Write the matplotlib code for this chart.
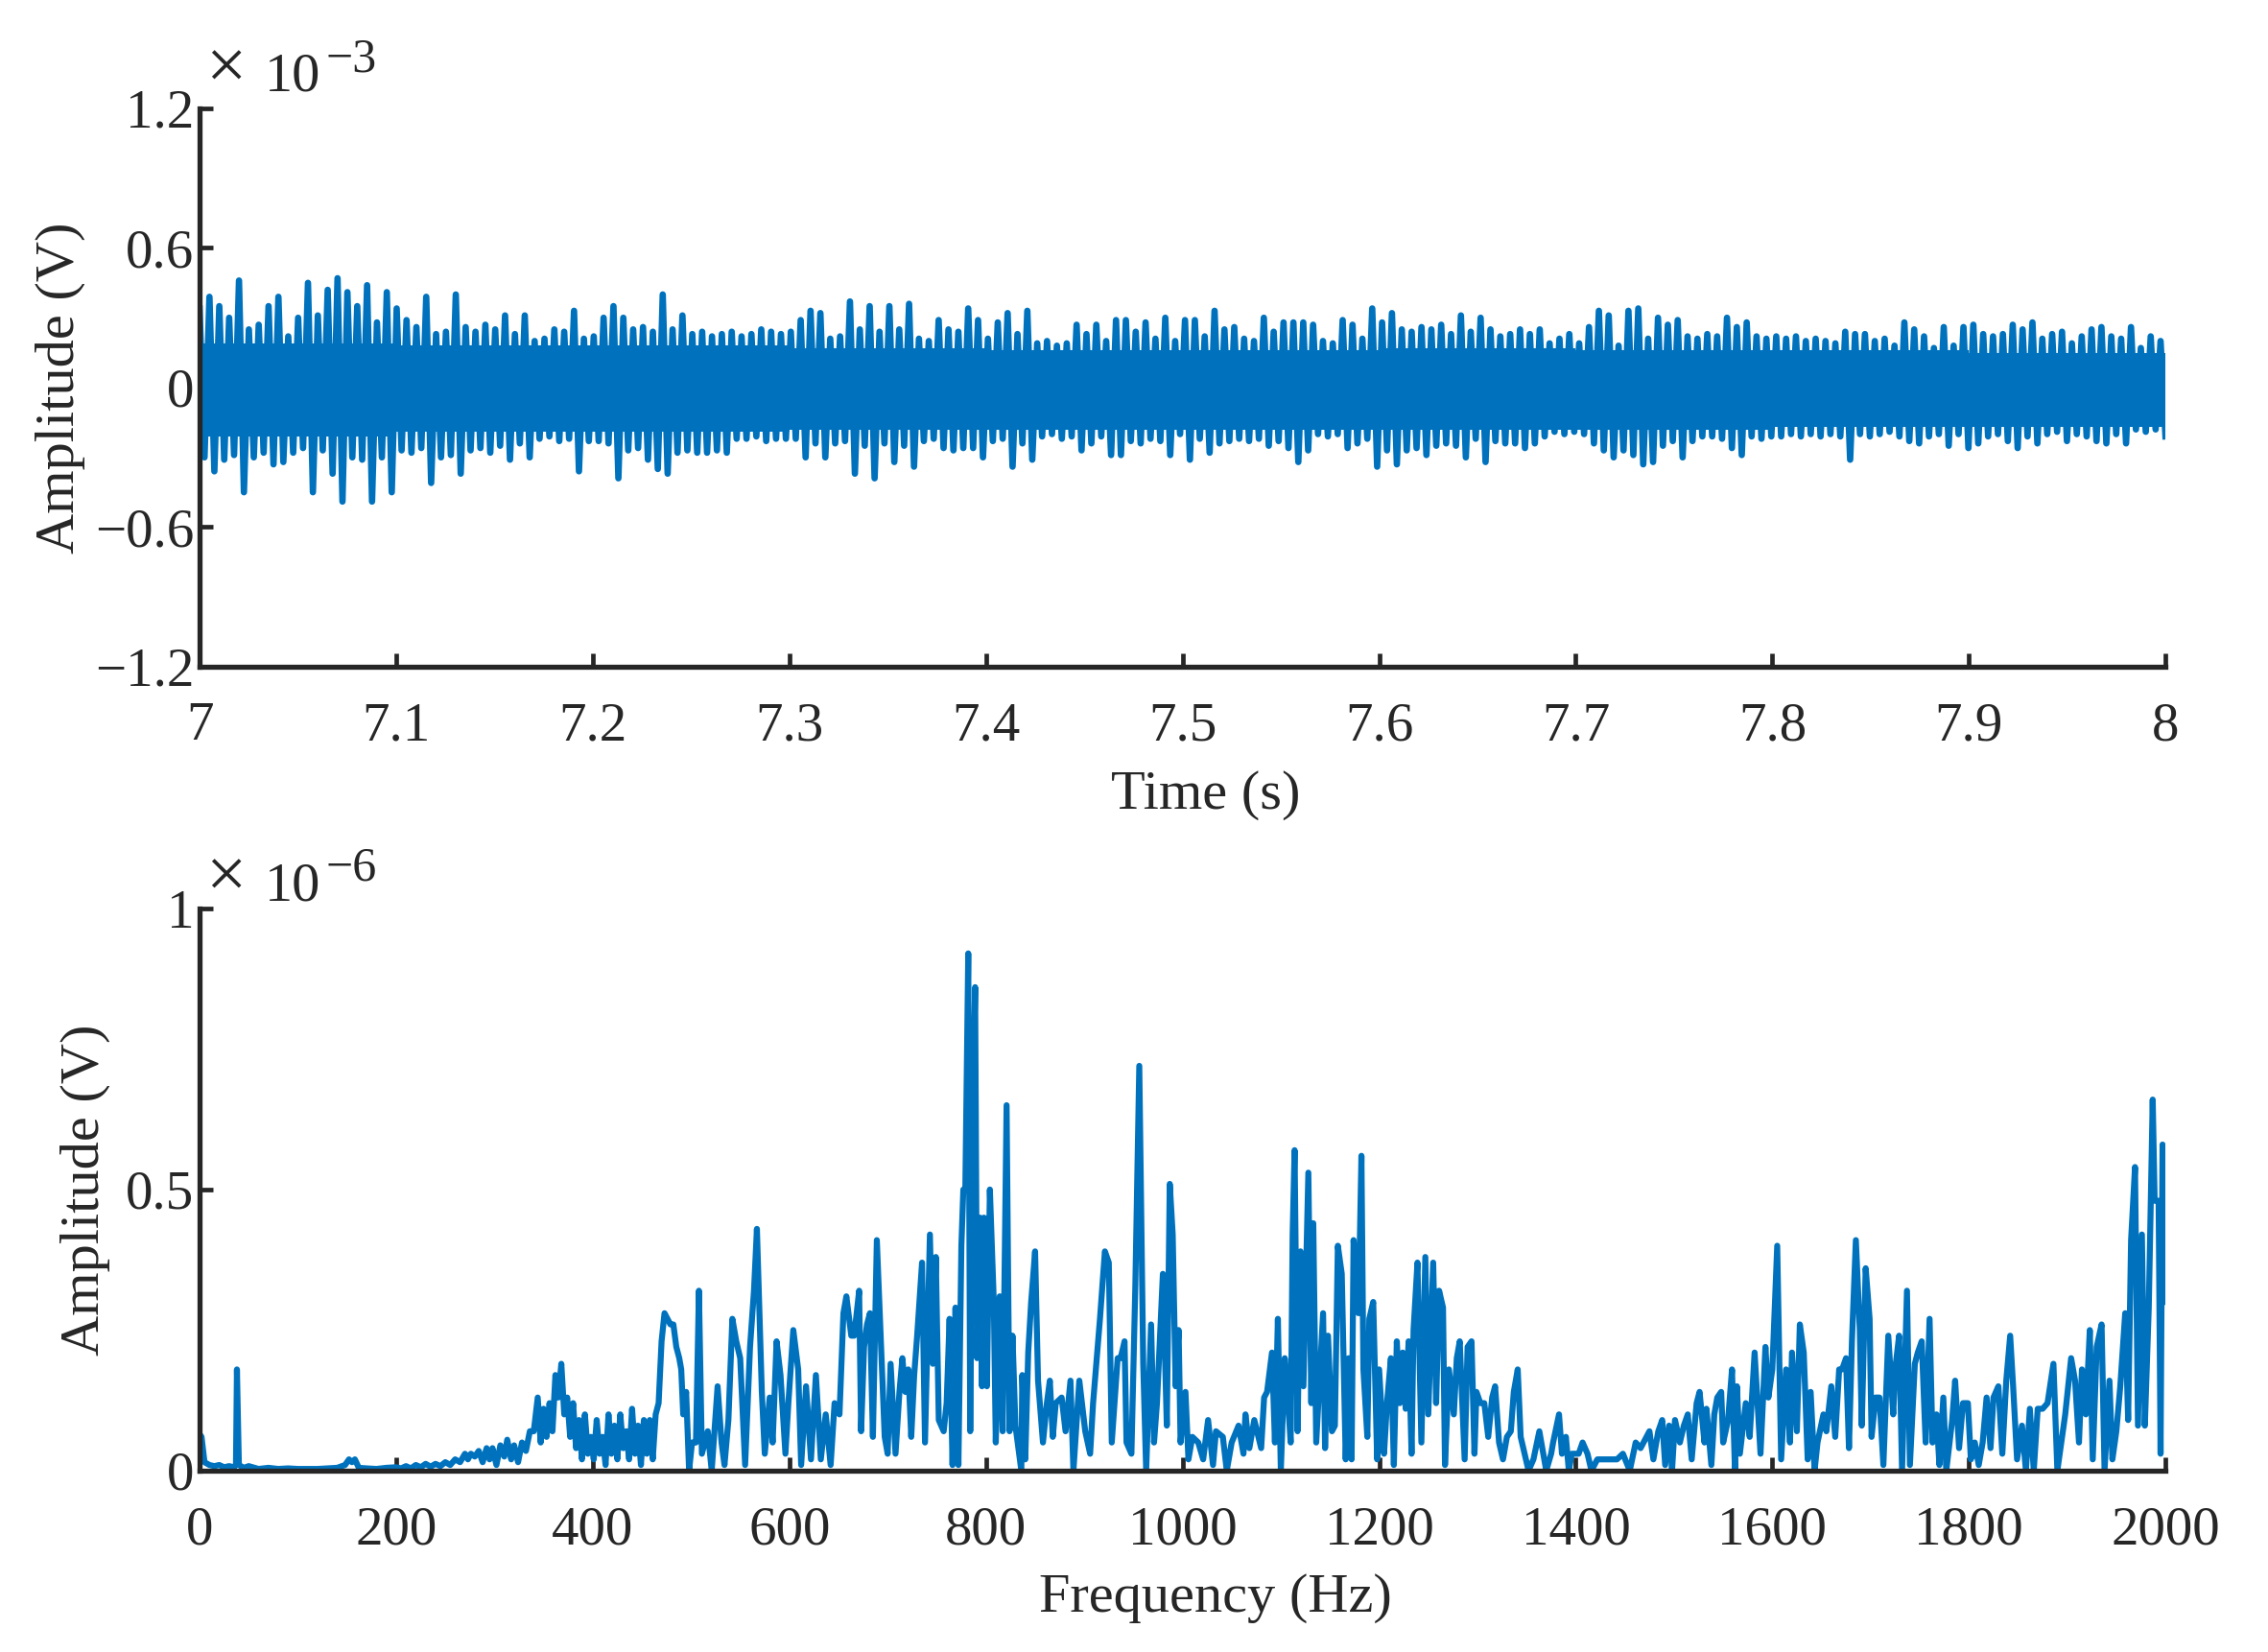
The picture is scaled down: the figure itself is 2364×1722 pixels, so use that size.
import numpy as np
import matplotlib.pyplot as plt

plt.rcParams['font.family'] = ['Liberation Serif', 'DejaVu Serif']

# ---- time signal, 7 s .. 8 s : upper / lower extremes per 5 ms bin (x 1e-3 V)
upper_env = [
    [0.34, 0.39, 0.35, 0.30, 0.46, 0.25, 0.27, 0.35, 0.39, 0.22, 0.30, 0.45, 0.31, 0.42, 0.47, 0.41, 0.35, 0.44, 0.28, 0.41],
    [0.34, 0.29, 0.26, 0.39, 0.23, 0.24, 0.40, 0.26, 0.24, 0.27, 0.25, 0.31, 0.23, 0.31, 0.20, 0.21, 0.25, 0.24, 0.33, 0.21],
    [0.22, 0.30, 0.35, 0.30, 0.25, 0.26, 0.24, 0.40, 0.25, 0.31, 0.23, 0.24, 0.22, 0.23, 0.24, 0.22, 0.23, 0.25, 0.24, 0.23],
    [0.24, 0.29, 0.33, 0.32, 0.21, 0.22, 0.37, 0.25, 0.35, 0.24, 0.35, 0.25, 0.36, 0.21, 0.20, 0.29, 0.25, 0.24, 0.34, 0.29],
    [0.21, 0.28, 0.32, 0.23, 0.33, 0.19, 0.20, 0.18, 0.19, 0.27, 0.23, 0.27, 0.20, 0.29, 0.29, 0.24, 0.28, 0.21, 0.30, 0.20],
    [0.29, 0.29, 0.22, 0.33, 0.25, 0.26, 0.21, 0.20, 0.30, 0.24, 0.28, 0.28, 0.28, 0.27, 0.20, 0.19, 0.29, 0.27, 0.21, 0.34],
    [0.28, 0.32, 0.25, 0.24, 0.26, 0.25, 0.27, 0.23, 0.31, 0.24, 0.30, 0.25, 0.22, 0.23, 0.25, 0.23, 0.25, 0.19, 0.21, 0.23],
    [0.19, 0.26, 0.33, 0.31, 0.18, 0.33, 0.34, 0.21, 0.30, 0.27, 0.29, 0.22, 0.21, 0.23, 0.22, 0.30, 0.26, 0.28, 0.22, 0.21],
    [0.22, 0.21, 0.22, 0.20, 0.21, 0.20, 0.19, 0.24, 0.23, 0.23, 0.20, 0.21, 0.18, 0.28, 0.25, 0.22, 0.17, 0.26, 0.18, 0.26],
    [0.27, 0.23, 0.22, 0.23, 0.27, 0.25, 0.28, 0.21, 0.23, 0.24, 0.19, 0.22, 0.25, 0.26, 0.22, 0.21, 0.26, 0.17, 0.22, 0.20],
]
lower_env = [
    [-0.30, -0.36, -0.31, -0.29, -0.45, -0.30, -0.28, -0.33, -0.32, -0.28, -0.26, -0.45, -0.27, -0.37, -0.49, -0.30, -0.31, -0.49, -0.30, -0.45],
    [-0.27, -0.28, -0.26, -0.41, -0.30, -0.29, -0.37, -0.27, -0.26, -0.28, -0.25, -0.31, -0.24, -0.30, -0.22, -0.21, -0.23, -0.22, -0.36, -0.23],
    [-0.23, -0.24, -0.39, -0.27, -0.26, -0.31, -0.35, -0.37, -0.28, -0.27, -0.28, -0.28, -0.27, -0.28, -0.22, -0.22, -0.21, -0.23, -0.22, -0.22],
    [-0.22, -0.30, -0.24, -0.30, -0.24, -0.23, -0.37, -0.25, -0.39, -0.24, -0.32, -0.25, -0.34, -0.23, -0.22, -0.26, -0.27, -0.26, -0.26, -0.30],
    [-0.23, -0.22, -0.34, -0.24, -0.31, -0.21, -0.20, -0.22, -0.21, -0.27, -0.24, -0.21, -0.29, -0.29, -0.23, -0.24, -0.22, -0.23, -0.29, -0.20],
    [-0.31, -0.22, -0.28, -0.24, -0.23, -0.22, -0.23, -0.22, -0.25, -0.23, -0.26, -0.32, -0.27, -0.20, -0.21, -0.20, -0.26, -0.24, -0.22, -0.34],
    [-0.27, -0.33, -0.27, -0.26, -0.29, -0.25, -0.24, -0.25, -0.30, -0.22, -0.32, -0.23, -0.24, -0.24, -0.26, -0.24, -0.21, -0.19, -0.20, -0.19],
    [-0.20, -0.24, -0.27, -0.30, -0.27, -0.29, -0.33, -0.32, -0.25, -0.23, -0.30, -0.23, -0.21, -0.21, -0.22, -0.26, -0.29, -0.21, -0.22, -0.21],
    [-0.21, -0.20, -0.21, -0.20, -0.21, -0.20, -0.21, -0.31, -0.20, -0.21, -0.20, -0.19, -0.21, -0.23, -0.24, -0.21, -0.20, -0.25, -0.20, -0.26],
    [-0.24, -0.21, -0.20, -0.23, -0.26, -0.21, -0.24, -0.20, -0.19, -0.23, -0.20, -0.21, -0.23, -0.24, -0.20, -0.24, -0.18, -0.19, -0.18, -0.21],
]
# solid (densely overlapped) core of the trace, per 0.1 s (x 1e-3 V)
core_upper = [0.19, 0.18, 0.18, 0.17, 0.16, 0.16, 0.17, 0.16, 0.16, 0.15]
core_lower = [-0.21, -0.19, -0.19, -0.18, -0.18, -0.18, -0.18, -0.18, -0.17, -0.17]

# ---- amplitude spectrum (x 1e-6 V), read in four frequency bands
f_band1 = [0, 2, 5, 10, 15, 20, 25, 30, 35, 37, 38, 40, 45, 50, 60, 70, 80, 90, 100, 110,
           120, 130, 140, 148, 152, 155, 158, 162, 170, 180, 190, 200, 205, 210, 215, 220, 225, 230, 235, 240,
           245, 250, 255, 260, 265, 270, 273, 276, 280, 284, 288, 292, 295, 298, 302, 306, 310, 313, 317, 320,
           324, 328, 332, 336, 340, 344, 347, 350, 353, 356, 359, 362, 365, 368, 371, 374, 377, 380, 383, 386,
           389, 392, 395, 398, 401, 404, 407, 410, 413, 416, 419, 422, 425, 428, 431, 434, 437, 440, 443, 446,
           449, 452, 455, 458, 461, 464, 467, 470, 473, 476, 479, 482, 485, 488, 490, 492, 495, 498]
a_band1 = [0.065, 0.06, 0.015, 0.01, 0.008, 0.01, 0.006, 0.008, 0.006, 0.01, 0.18, 0.01, 0.005, 0.008, 0.003, 0.005, 0.003, 0.004, 0.003, 0.003,
           0.003, 0.004, 0.005, 0.01, 0.02, 0.015, 0.02, 0.005, 0.004, 0.003, 0.005, 0.006, 0.004, 0.008, 0.004, 0.01, 0.006, 0.012, 0.007, 0.012,
           0.008, 0.015, 0.01, 0.02, 0.015, 0.03, 0.02, 0.03, 0.025, 0.035, 0.015, 0.04, 0.02, 0.04, 0.01, 0.045, 0.025, 0.055, 0.02, 0.045,
           0.015, 0.05, 0.035, 0.07, 0.07, 0.13, 0.05, 0.11, 0.06, 0.12, 0.07, 0.17, 0.13, 0.19, 0.1, 0.13, 0.06, 0.12, 0.04, 0.09,
           0.02, 0.1, 0.03, 0.06, 0.02, 0.09, 0.03, 0.06, 0.01, 0.1, 0.03, 0.08, 0.02, 0.1, 0.04, 0.07, 0.02, 0.11, 0.03, 0.08,
           0.01, 0.09, 0.03, 0.09, 0.02, 0.1, 0.12, 0.23, 0.28, 0.27, 0.26, 0.26, 0.22, 0.2, 0.18, 0.1, 0.14, 0.0]

f_band2 = [501, 505, 508, 511, 517, 521, 527, 531, 534, 538, 542, 546, 550, 555, 560, 564, 567, 572, 575, 580,
           583, 587, 591, 596, 599, 604, 609, 612, 617, 622, 627, 632, 637, 642, 646, 651, 655, 658, 663, 666,
           671, 673, 676, 679, 682, 685, 689, 694, 697, 700, 703, 708, 712, 715, 718, 721, 724, 727, 730, 735,
           738, 743, 746, 749, 752, 757, 760, 763, 766, 769, 772, 775, 777, 779, 782, 784, 786, 789, 791, 794,
           796, 798, 801, 804, 808, 810, 814, 817, 821, 824, 827, 830, 836, 837, 840, 843, 846, 850, 853, 858,
           862, 865, 868, 871, 877, 881, 886, 889, 895, 901, 906, 909, 916, 921, 925, 928, 934, 937, 941, 943,
           948, 952, 956, 960, 963]
a_band2 = [0.05, 0.05, 0.32, 0.03, 0.07, 0.0, 0.15, 0.05, 0.01, 0.09, 0.27, 0.23, 0.2, 0.01, 0.22, 0.32, 0.43, 0.14, 0.03, 0.13,
           0.05, 0.23, 0.17, 0.03, 0.12, 0.25, 0.18, 0.01, 0.15, 0.02, 0.17, 0.02, 0.1, 0.01, 0.12, 0.1, 0.28, 0.31, 0.24, 0.24,
           0.32, 0.07, 0.22, 0.26, 0.28, 0.06, 0.41, 0.19, 0.06, 0.03, 0.19, 0.03, 0.14, 0.2, 0.14, 0.18, 0.06, 0.17, 0.24, 0.37,
           0.05, 0.42, 0.19, 0.38, 0.09, 0.07, 0.12, 0.27, 0.01, 0.29, 0.01, 0.4, 0.5, 0.5, 0.92, 0.07, 0.6, 0.86, 0.2, 0.45,
           0.15, 0.45, 0.15, 0.5, 0.3, 0.05, 0.31, 0.07, 0.65, 0.07, 0.24, 0.08, 0.0, 0.17, 0.02, 0.21, 0.3, 0.39, 0.16, 0.05,
           0.12, 0.16, 0.06, 0.12, 0.13, 0.07, 0.16, 0.0, 0.16, 0.07, 0.03, 0.12, 0.27, 0.39, 0.37, 0.05, 0.2, 0.2, 0.23, 0.05,
           0.03, 0.33, 0.72, 0.19, 0.0]

f_band3 = [968, 971, 974, 980, 984, 987, 990, 993, 996, 998, 1003, 1006, 1010, 1016, 1021, 1026, 1031, 1034, 1041, 1045,
           1050, 1057, 1062, 1064, 1068, 1073, 1080, 1083, 1086, 1091, 1094, 1097, 1100, 1104, 1106, 1110, 1112, 1114, 1117, 1120,
           1123, 1128, 1131, 1133, 1136, 1140, 1143, 1145, 1148, 1152, 1155, 1158, 1162, 1166, 1169, 1172, 1174, 1179, 1182, 1184,
           1188, 1190, 1194, 1198, 1200, 1205, 1208, 1212, 1215, 1218, 1221, 1224, 1227, 1230, 1233, 1235, 1239, 1243, 1247, 1250,
           1255, 1258, 1261, 1265, 1267, 1271, 1276, 1279, 1282, 1287, 1290, 1294, 1297, 1299, 1303, 1307, 1311, 1315, 1318, 1322,
           1326, 1330, 1334, 1337, 1341, 1344, 1348, 1352, 1357, 1363, 1367, 1370, 1375, 1377, 1383, 1386, 1390, 1393, 1396, 1403,
           1407, 1412, 1416, 1422, 1429, 1435, 1442, 1448, 1455]
a_band3 = [0.26, 0.05, 0.12, 0.35, 0.08, 0.51, 0.42, 0.15, 0.25, 0.05, 0.14, 0.02, 0.06, 0.05, 0.02, 0.09, 0.01, 0.07, 0.06, 0.0,
           0.05, 0.08, 0.03, 0.1, 0.04, 0.09, 0.04, 0.13, 0.14, 0.21, 0.05, 0.27, 0.0, 0.2, 0.16, 0.05, 0.42, 0.57, 0.07, 0.39,
           0.15, 0.53, 0.12, 0.44, 0.05, 0.18, 0.28, 0.04, 0.24, 0.07, 0.08, 0.4, 0.35, 0.02, 0.2, 0.02, 0.41, 0.28, 0.56, 0.18,
           0.06, 0.27, 0.3, 0.02, 0.18, 0.03, 0.12, 0.2, 0.01, 0.23, 0.12, 0.21, 0.11, 0.23, 0.03, 0.25, 0.37, 0.05, 0.38, 0.1,
           0.37, 0.12, 0.32, 0.29, 0.01, 0.18, 0.1, 0.2, 0.23, 0.02, 0.22, 0.23, 0.03, 0.14, 0.12, 0.12, 0.06, 0.13, 0.15, 0.05,
           0.02, 0.06, 0.07, 0.14, 0.18, 0.06, 0.03, 0.0, 0.02, 0.07, 0.03, 0.0, 0.03, 0.05, 0.1, 0.03, 0.06, 0.0, 0.03, 0.03,
           0.05, 0.03, 0.0, 0.02, 0.02, 0.02, 0.02, 0.03, 0.0]

f_band4 = [1461, 1466, 1472, 1475, 1479, 1484, 1488, 1491, 1495, 1498, 1501, 1506, 1510, 1514, 1518, 1523, 1526, 1531, 1533, 1538,
           1541, 1544, 1548, 1550, 1555, 1559, 1562, 1564, 1567, 1573, 1577, 1582, 1588, 1593, 1596, 1600, 1605, 1609, 1614, 1618,
           1620, 1625, 1628, 1632, 1636, 1639, 1643, 1646, 1652, 1655, 1660, 1664, 1668, 1671, 1675, 1678, 1681, 1685, 1689, 1691,
           1695, 1699, 1701, 1705, 1709, 1713, 1718, 1723, 1725, 1729, 1732, 1737, 1740, 1745, 1748, 1752, 1756, 1760, 1763, 1767,
           1770, 1774, 1777, 1783, 1786, 1790, 1794, 1799, 1802, 1806, 1810, 1814, 1818, 1822, 1825, 1830, 1834, 1838, 1842, 1845,
           1849, 1854, 1858, 1862, 1866, 1870, 1875, 1880, 1886, 1890, 1894, 1898, 1904, 1908, 1912, 1915, 1919, 1923, 1926, 1930,
           1935, 1938, 1943, 1946, 1950, 1954, 1959, 1962, 1965, 1969, 1972, 1976, 1979, 1983, 1987, 1989, 1993, 1995, 1997, 2000]
a_band4 = [0.05, 0.04, 0.06, 0.07, 0.02, 0.07, 0.09, 0.01, 0.08, 0.0, 0.09, 0.05, 0.08, 0.1, 0.02, 0.12, 0.14, 0.05, 0.11, 0.01,
           0.1, 0.13, 0.14, 0.05, 0.09, 0.18, 0.0, 0.15, 0.03, 0.12, 0.06, 0.21, 0.03, 0.22, 0.13, 0.18, 0.4, 0.02, 0.18, 0.05,
           0.21, 0.07, 0.26, 0.21, 0.02, 0.14, 0.0, 0.05, 0.1, 0.07, 0.15, 0.06, 0.18, 0.18, 0.2, 0.04, 0.23, 0.41, 0.25, 0.08,
           0.36, 0.27, 0.06, 0.13, 0.13, 0.01, 0.24, 0.1, 0.18, 0.24, 0.0, 0.32, 0.01, 0.19, 0.21, 0.23, 0.05, 0.27, 0.05, 0.1,
           0.01, 0.13, 0.0, 0.09, 0.16, 0.04, 0.12, 0.12, 0.02, 0.05, 0.01, 0.05, 0.13, 0.04, 0.13, 0.15, 0.03, 0.16, 0.24, 0.15,
           0.02, 0.08, 0.0, 0.11, 0.0, 0.11, 0.11, 0.12, 0.19, 0.0, 0.05, 0.1, 0.2, 0.16, 0.05, 0.18, 0.1, 0.25, 0.02, 0.22,
           0.26, 0.0, 0.16, 0.02, 0.07, 0.15, 0.28, 0.09, 0.41, 0.54, 0.08, 0.42, 0.08, 0.29, 0.66, 0.48, 0.48, 0.03, 0.58, 0.3]

time_ticks = [7, 7.1, 7.2, 7.3, 7.4, 7.5, 7.6, 7.7, 7.8, 7.9, 8]
time_labels = ['7', '7.1', '7.2', '7.3', '7.4', '7.5', '7.6', '7.7', '7.8', '7.9', '8']
volt_ticks = [-1.2, -0.6, 0, 0.6, 1.2]
volt_labels = ['\u22121.2', '\u22120.6', '0', '0.6', '1.2']
freq_ticks = [0, 200, 400, 600, 800, 1000, 1200, 1400, 1600, 1800, 2000]
spec_ticks = [0, 0.5, 1]
spec_labels = ['0', '0.5', '1']

blue = '#0072BD'
dark = '#262626'
fs_tick = 41
fs_label = 42

# zig-zag between the bin extremes
up = np.array(upper_env).ravel()
lo = np.array(lower_env).ravel()
sig = np.empty(up.size * 2)
sig[0::2] = up
sig[1::2] = lo
t = np.linspace(7, 8, sig.size)
t_core = np.linspace(7, 8, len(core_upper) + 1)

freq = np.concatenate([f_band1, f_band2, f_band3, f_band4])
spec = np.concatenate([a_band1, a_band2, a_band3, a_band4])

fig = plt.figure(figsize=(23.64, 17.22), dpi=100)
ax1 = fig.add_axes([0.088, 0.5964, 0.8668, 0.338])
ax2 = fig.add_axes([0.088, 0.1098, 0.8668, 0.3403])

ax1.fill_between(t_core, core_upper + core_upper[-1:], core_lower + core_lower[-1:],
                 step='post', color=blue, lw=0)
ax1.plot(t, sig, color=blue, lw=4.8)
ax2.plot(freq, spec, color=blue, lw=4.5)

ax1.set_xlim(7, 8)
ax1.set_ylim(-1.2, 1.2)
ax1.set_xticks(time_ticks)
ax1.set_xticklabels(time_labels)
ax1.set_yticks(volt_ticks)
ax1.set_yticklabels(volt_labels)
ax1.set_xlabel('Time (s)', fontsize=fs_label)
ax1.set_ylabel('Amplitude (V)', fontsize=fs_label)

ax2.set_xlim(0, 2000)
ax2.set_ylim(0, 1)
ax2.set_xticks(freq_ticks)
ax2.set_yticks(spec_ticks)
ax2.set_yticklabels(spec_labels)
ax2.set_xlabel('Frequency (Hz)', fontsize=fs_label)
ax2.set_ylabel('Amplitude (V)', fontsize=fs_label)

for ax in (ax1, ax2):
    for s in ('top', 'right'):
        ax.spines[s].set_visible(False)
    for s in ('left', 'bottom'):
        ax.spines[s].set_linewidth(3.8)
        ax.spines[s].set_color(dark)
        ax.spines[s].set_capstyle('projecting')
    ax.tick_params(direction='in', length=10, width=3.4, colors=dark,
                   labelsize=fs_tick, labelcolor=dark)
    ax.tick_params(axis='x', pad=26)
    ax.tick_params(axis='y', pad=4)
    ax.xaxis.label.set_color(dark)
    ax.yaxis.label.set_color(dark)
    ax.xaxis.label.set_va('center')
    ax.yaxis.label.set_va('center')

ax1.yaxis.set_label_coords(-0.071, 0.5)
ax2.yaxis.set_label_coords(-0.058, 0.5)
ax1.xaxis.set_label_coords(0.512, -0.23)
ax2.xaxis.set_label_coords(0.517, -0.227)

# "x 10^-n" multipliers, MATLAB style
for ax, y0, sup in ((ax1, 1.031, '\u22123'), (ax2, 1.015, '\u22126')):
    ax.text(0.003, y0 + 0.004, '\u00d7', transform=ax.transAxes,
            fontsize=54, color=dark, va='baseline', ha='left')
    ax.text(0.033, y0, '10', transform=ax.transAxes,
            fontsize=42, color=dark, va='baseline', ha='left')
    ax.text(0.064, y0 + 0.035, sup, transform=ax.transAxes,
            fontsize=36, color=dark, va='baseline', ha='left')

fig.savefig('out.png', dpi=100, facecolor='white')
